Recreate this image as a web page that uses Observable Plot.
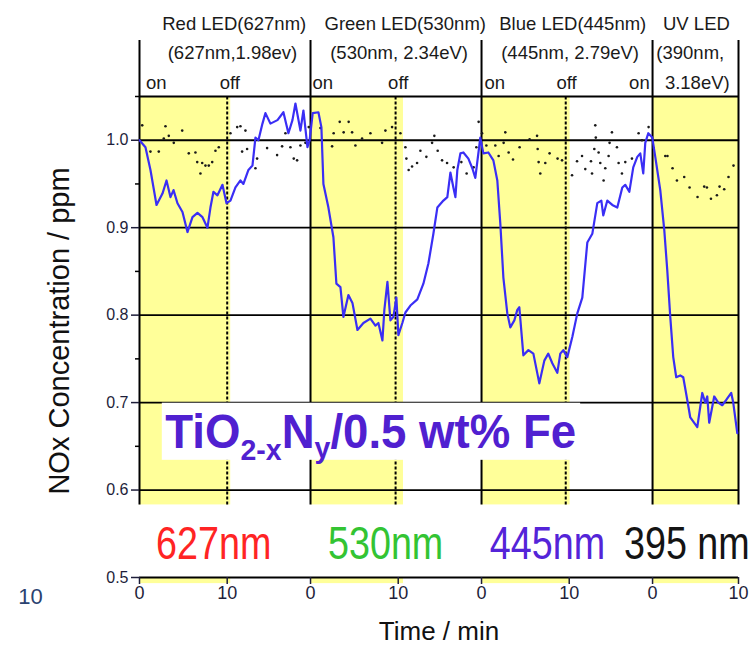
<!DOCTYPE html>
<html><head><meta charset="utf-8">
<script src="https://cdn.jsdelivr.net/npm/d3@7"></script>
<script src="https://cdn.jsdelivr.net/npm/@observablehq/plot@0.6"></script>
<style>body{margin:0;background:#fff;} svg{display:block}</style>
</head><body><div id="chart"></div>
<script>
// ---- data ----
const panelStarts = [0, 19.5, 39, 58.5];
const panelEnd = 68.3;
const lightOn = [[0, 10.4], [0.1, 10.6], [0, 10.1], [0, 9.8]];   // local minutes, yellow = LED on
const offMarks = [10, 9.7, 9.6];                                   // local minute of switching off
const yMajor = [0.5, 0.6, 0.7, 0.8, 0.9, 1.0];
const yMinor = [0.65, 0.75, 0.85, 0.95, 1.05];
const gridValues = [0.6, 0.7, 0.8, 0.9, 1.0, 1.05];
const xTickLocal = [0, 10];

// NOx concentration (ppm), [local minute, value] per panel
const noxRed = [[0,1.000],[0.68,0.992],[1.25,0.966],[1.94,0.926],[2.62,0.939],[3.08,0.954],[3.53,0.935],[3.88,0.943],[4.33,0.928],[4.90,0.918],[5.47,0.895],[6.04,0.912],[6.61,0.917],[7.18,0.912],[7.75,0.900],[8.09,0.923],[8.43,0.941],[8.89,0.937],[9.46,0.949],[9.92,0.928],[10.37,0.931],[10.94,0.946],[11.51,0.954],[11.85,0.950],[12.42,0.966],[12.88,0.971],[13.22,1.003],[13.56,1.000],[14.02,1.019],[14.36,1.031],[14.93,1.019],[15.73,1.023],[16.41,1.032],[16.98,1.008],[17.44,1.023],[17.78,1.042],[18.35,1.011],[18.69,1.034],[19.15,0.992],[19.40,1.000]];
const noxGreen = [[0.25,1.031],[0.90,1.032],[1.24,1.015],[1.47,0.950],[2.04,0.923],[2.61,0.889],[2.95,0.836],[3.41,0.832],[3.75,0.798],[4.32,0.823],[4.78,0.814],[5.35,0.783],[6.03,0.791],[6.83,0.796],[7.40,0.788],[7.74,0.791],[8.20,0.771],[8.42,0.806],[8.77,0.838],[9.11,0.794],[9.45,0.798],[9.79,0.820],[10.02,0.777],[10.47,0.791],[10.82,0.803],[11.39,0.811],[12.18,0.818],[12.87,0.836],[13.44,0.859],[14.01,0.893],[14.46,0.923],[15.15,0.931],[15.60,0.935],[15.95,0.963],[16.29,0.946],[16.52,0.935],[16.74,0.966],[17.09,0.985],[17.43,0.986],[18.00,0.979],[18.45,0.968],[18.79,0.957],[19.36,1.003]];
const noxBlue = [[0.21,0.985],[0.78,0.986],[1.35,0.977],[1.80,0.954],[2.14,0.905],[2.49,0.843],[2.94,0.802],[3.28,0.786],[3.74,0.794],[4.08,0.806],[4.31,0.809],[4.77,0.754],[5.34,0.760],[5.91,0.756],[6.59,0.722],[7.16,0.748],[7.61,0.756],[8.07,0.745],[8.64,0.734],[8.98,0.756],[9.32,0.760],[9.78,0.752],[10.35,0.775],[10.92,0.802],[11.49,0.820],[12.06,0.883],[12.63,0.893],[13.20,0.928],[13.66,0.931],[13.88,0.914],[14.34,0.931],[14.91,0.926],[15.48,0.923],[16.05,0.946],[16.39,0.949],[16.85,0.941],[17.30,0.969],[17.76,0.981],[18.10,0.985],[18.44,0.962],[18.67,0.997],[19.01,1.008],[19.47,1.003]];
const noxUV = [[0.31,0.981],[0.88,0.943],[1.34,0.897],[1.68,0.851],[2.02,0.798],[2.36,0.752],[2.70,0.729],[3.16,0.731],[3.50,0.729],[3.96,0.703],[4.30,0.683],[5.10,0.672],[5.67,0.711],[6.01,0.700],[6.24,0.707],[6.46,0.677],[7.03,0.707],[7.49,0.700],[7.95,0.697],[8.40,0.703],[8.97,0.711],[9.20,0.700],[9.66,0.665]];

// reference (dark) points, [local minute, value] per panel
const refRed = [[0.31,1.017],[1.25,0.987],[2.20,0.987],[2.77,1.002],[2.96,1.016],[3.34,1.005],[3.91,0.997],[4.87,1.011],[5.62,0.985],[6.38,0.986],[6.58,0.975],[6.95,0.962],[7.15,0.974],[7.52,0.971],[7.90,0.971],[8.29,0.975],[8.66,0.988],[9.04,0.992],[10.37,1.008],[11.14,1.015],[11.51,1.016],[11.70,0.987],[12.08,1.011],[12.27,0.990],[13.22,0.968],[13.41,0.979],[14.55,0.991],[15.69,0.983],[16.26,0.993],[16.64,1.008],[17.21,0.992],[17.59,0.979],[17.97,0.977],[18.35,0.994],[18.92,0.997],[19.30,1.015]];
const refGreen = [[1.13,1.014],[2.46,0.993],[2.64,1.008],[3.33,1.021],[3.78,1.009],[4.35,1.021],[4.74,1.009],[5.12,0.994],[5.88,1.002],[6.83,1.008],[8.16,0.997],[8.54,1.011],[9.30,1.015],[10.25,1.008],[10.82,0.992],[10.93,0.979],[11.19,0.966],[11.58,0.970],[12.15,0.974],[12.53,0.988],[13.21,0.981],[13.86,0.997],[14.12,1.005],[14.50,0.988],[15.00,0.977],[15.57,0.974],[16.32,0.969],[17.20,0.975],[17.80,0.962],[18.60,0.969],[18.91,0.992],[19.17,1.021]];
const refBlue = [[0.06,1.008],[0.55,0.994],[1.57,0.994],[1.95,0.982],[2.52,0.997],[2.71,1.009],[3.09,0.986],[3.59,0.978],[4.34,0.992],[5.48,1.001],[6.33,1.005],[6.40,0.990],[6.51,0.975],[6.70,0.962],[7.27,0.974],[7.76,0.985],[8.67,0.979],[9.18,0.977],[10.32,0.960],[10.89,0.976],[11.46,0.982],[11.83,0.967],[12.48,0.976],[12.60,0.962],[12.86,0.990],[12.97,1.017],[13.03,1.003],[13.35,0.986],[13.54,0.974],[13.92,0.954],[14.11,0.968],[14.49,0.982],[14.60,0.997],[14.87,1.009],[15.44,0.992],[15.63,0.974],[16.01,0.962],[16.39,0.975],[17.15,0.979],[17.91,1.008],[18.29,1.000],[19.05,1.015]];
const refUV = [[0.12,0.991],[1.45,0.982],[1.70,0.982],[2.28,0.968],[2.78,0.954],[3.61,0.958],[4.22,0.946],[5.13,0.935],[5.89,0.947],[6.20,0.946],[6.66,0.933],[7.34,0.937],[7.64,0.947],[8.17,0.944],[8.66,0.958],[9.23,0.971]];

// texts: [text, panel, local minute]
const headerRow1 = [["Red LED(627nm)", 0, 10.8], ["Green LED(530nm)", 1, 10.8], ["Blue LED(445nm)", 2, 10.4], ["UV LED", 3, 5.0]];
const headerRow2 = [["(627nm,1.98ev)", 0, 10.6], ["(530nm, 2.34eV)", 1, 10.1], ["(445nm, 2.79eV)", 2, 10.1], ["(390nm,", 3, 4.3]];
const headerRow3 = [["on", 0, 1.9], ["off", 0, 10.3], ["on", 1, 1.4], ["off", 1, 10.0], ["on", 2, 1.5], ["off", 2, 9.7], ["on", 2, 18.0], ["3.18eV)", 3, 5.1]];
const waveLabels = [["627nm", "#ff2424", 0, 1.94], ["530nm", "#33c433", 1, 2.05], ["445nm", "#5424d8", 2, 1.0], ["395 nm", "#141414", 2, 16.3]];
const sampleParts = [["TiO", "main"], ["2-x", "sub"], ["N", "main"], ["y", "sub"], ["/0.5 wt% Fe", "main"]];
const yLabel = "NOx Concentration / ppm";
const xLabel = "Time / min";
const strayLabel = "10";

// ---- build tables ----
const g = (p, t) => panelStarts[p] + t;
const series = [noxRed, noxGreen, noxBlue, noxUV].flatMap((s, p) => s.map(([t, v]) => ({t: g(p, t), v})));
const refPts = [refRed, refGreen, refBlue, refUV].flatMap((s, p) => s.map(([t, v]) => ({t: g(p, t), v})));
const yellow = lightOn.map(([a, b], p) => ({x1: g(p, a), x2: Math.min(g(p, b), panelEnd)}));
const offLines = offMarks.map((t, p) => g(p, t));
const panelLines = [...panelStarts, panelEnd];
const xTicks = panelStarts.flatMap(s => xTickLocal.map(t => Math.min(s + t, panelEnd)));
const xTickLabel = new Map(panelStarts.flatMap(s => xTickLocal.map(t => [Math.min(s + t, panelEnd), String(t)])));
const toRows = arr => arr.map(([text, p, t]) => ({text, x: g(p, t)}));

const SANS = "'Liberation Sans', Arial, sans-serif";
const plotTop = 1.05, plotBottom = 0.583, lineTop = 1.114;

const chart = Plot.plot({
  width: 751, height: 645,
  marginTop: 96, marginBottom: 68, marginLeft: 139, marginRight: 13,
  x: {domain: [0, panelEnd]},
  y: {domain: [0.5, 1.05]},
  style: {fontFamily: SANS, background: "white"},
  marks: [
    Plot.rect(yellow, {x1: "x1", x2: "x2", y1: plotBottom, y2: plotTop, fill: "#ffff99"}),
    Plot.rect(yellow, {x1: "x1", x2: "x2", y1: 0.493, y2: 0.5, fill: "#ffff99"}),
    Plot.ruleY(gridValues, {stroke: "black", strokeWidth: 1.8}),
    Plot.ruleX(panelLines, {y1: plotBottom, y2: lineTop, stroke: "black", strokeWidth: 2}),
    Plot.ruleX(offLines, {y1: plotBottom, y2: plotTop, stroke: "black", strokeWidth: 2, strokeDasharray: "3,2"}),
    Plot.dot(refPts, {x: "t", y: "v", r: 1.3, fill: "#1a1a1a", stroke: null}),
    Plot.line(series, {x: "t", y: "v", stroke: "#3a2ef5", strokeWidth: 2.2}),
    Plot.rect([0], {x1: 2.6, x2: 50.3, y1: 0.634, y2: 0.6993, fill: "white"}),
    Plot.ruleY([0.5], {stroke: "black", strokeWidth: 2}),
    Plot.axisY(yMajor, {tickSize: 8, tickPadding: 3, tickFormat: d3.format(".1f"), fontSize: 16, label: null, strokeWidth: 1.5, color: "#1e1e3a"}),
    Plot.axisY(yMinor, {tickSize: 4, tickFormat: () => "", label: null, strokeWidth: 1.5}),
    Plot.axisX(xTicks, {tickSize: 7, tickPadding: 2, tickFormat: d => xTickLabel.get(d), fontSize: 18, label: null, strokeWidth: 1.5, color: "#1e1e3a"}),
    Plot.text(toRows(headerRow1), {x: "x", text: "text", frameAnchor: "top", dy: -80, fontSize: 18.5, fill: "#1a1a1a"}),
    Plot.text(toRows(headerRow2), {x: "x", text: "text", frameAnchor: "top", dy: -51, fontSize: 18.5, fill: "#1a1a1a"}),
    Plot.text(toRows(headerRow3), {x: "x", text: "text", frameAnchor: "top", dy: -21, fontSize: 18.5, fill: "#1a1a1a"}),
    Plot.text([yLabel], {text: d => d, frameAnchor: "left", textAnchor: "middle", dx: -80, dy: -6, rotate: -90, fontSize: 29, fill: "#111"}),
    Plot.text([xLabel], {text: d => d, frameAnchor: "bottom", textAnchor: "middle", dy: 62, fontSize: 26, fill: "#111"}),
    Plot.text([strayLabel], {text: d => d, frameAnchor: "bottom-left", textAnchor: "middle", dx: -109, dy: 26, fontSize: 22, fill: "#2a4270"})
  ]
});

// labels drawn in a narrow style, positioned through the plot's scales
const sx = chart.scale("x"), sy = chart.scale("y");
const svg = d3.select(chart);
for (const [text, color, p, t] of waveLabels) {
  svg.append("text")
    .attr("transform", `translate(${sx.apply(g(p, t))},${sy.apply(0.521)}) scale(0.82,1)`)
    .attr("text-anchor", "start").attr("font-family", SANS).attr("font-size", 46)
    .attr("fill", color).text(text);
}
const lab = svg.append("text")
  .attr("transform", `translate(${sx.apply(3.0)},${sy.apply(0.648)}) scale(0.95,1)`)
  .attr("text-anchor", "start").attr("fill", "#5020d0")
  .attr("font-family", SANS).attr("font-weight", "bold").attr("font-size", 48);
let shift = 0;
for (const [txt, kind] of sampleParts) {
  const down = kind === "sub" ? (txt === "y" ? 10 : 12) : 0;
  lab.append("tspan").attr("font-size", kind === "sub" ? 30 : 48).attr("dy", down - shift).text(txt);
  shift = down;
}
document.getElementById("chart").appendChild(chart);
</script>
</body></html>
